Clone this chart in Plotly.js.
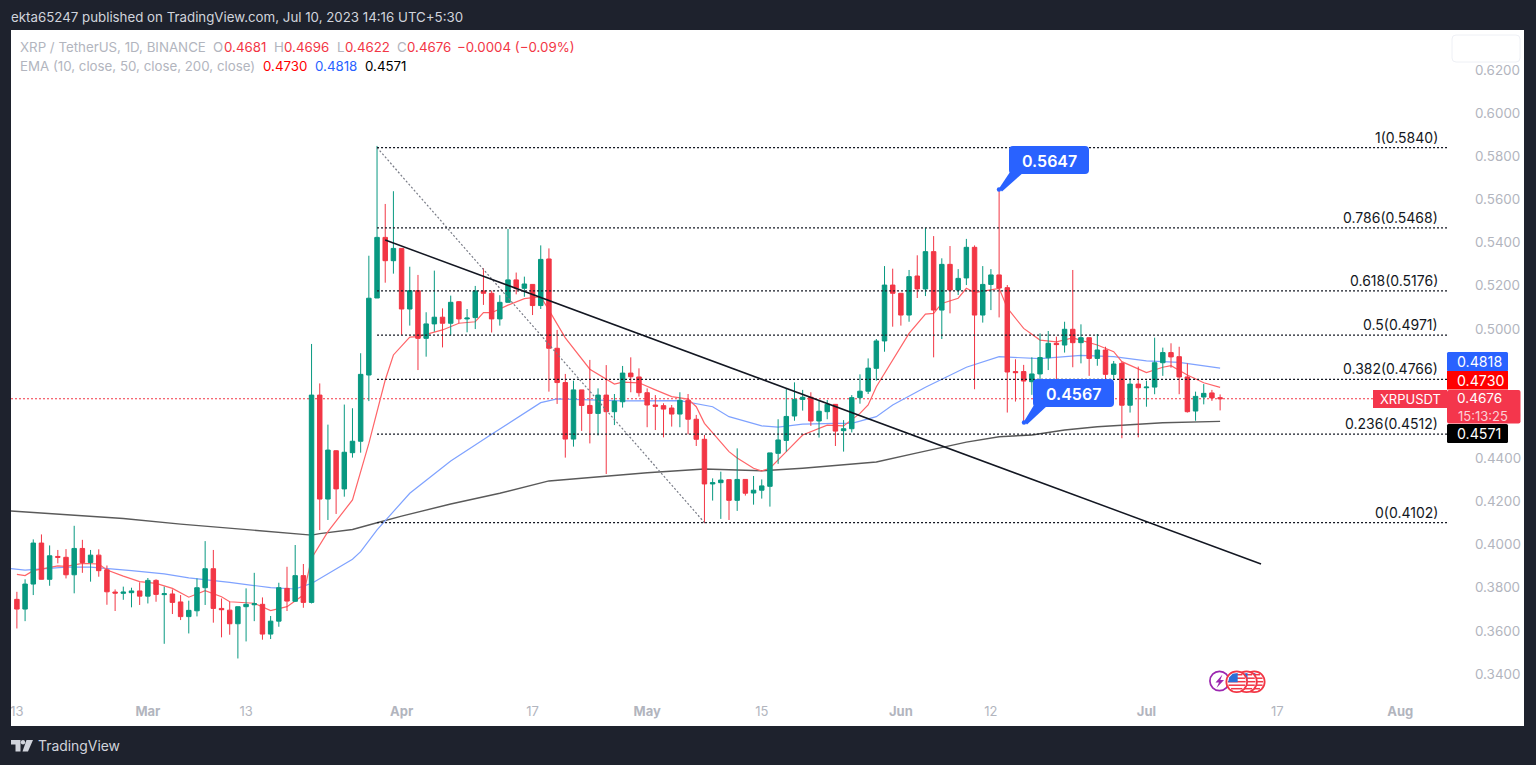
<!DOCTYPE html>
<html><head><meta charset="utf-8"><title>XRPUSDT</title>
<script src="https://cdn.plot.ly/plotly-3.0.1.min.js"></script>
<style>html,body{margin:0;padding:0;background:#1e222d;overflow:hidden}#c{width:1536px;height:765px}</style></head>
<body><div id="c"></div><script>
const dates=[
"2023-02-13","2023-02-14","2023-02-15","2023-02-16","2023-02-17","2023-02-18","2023-02-19","2023-02-20","2023-02-21","2023-02-22","2023-02-23","2023-02-24","2023-02-25","2023-02-26","2023-02-27","2023-02-28",
"2023-03-01","2023-03-02","2023-03-03","2023-03-04","2023-03-05","2023-03-06","2023-03-07","2023-03-08","2023-03-09","2023-03-10","2023-03-11","2023-03-12","2023-03-13","2023-03-14","2023-03-15","2023-03-16","2023-03-17","2023-03-18","2023-03-19","2023-03-20","2023-03-21","2023-03-22","2023-03-23","2023-03-24","2023-03-25","2023-03-26","2023-03-27","2023-03-28","2023-03-29","2023-03-30","2023-03-31",
"2023-04-01","2023-04-02","2023-04-03","2023-04-04","2023-04-05","2023-04-06","2023-04-07","2023-04-08","2023-04-09","2023-04-10","2023-04-11","2023-04-12","2023-04-13","2023-04-14","2023-04-15","2023-04-16","2023-04-17","2023-04-18","2023-04-19","2023-04-20","2023-04-21","2023-04-22","2023-04-23","2023-04-24","2023-04-25","2023-04-26","2023-04-27","2023-04-28","2023-04-29","2023-04-30",
"2023-05-01","2023-05-02","2023-05-03","2023-05-04","2023-05-05","2023-05-06","2023-05-07","2023-05-08","2023-05-09","2023-05-10","2023-05-11","2023-05-12","2023-05-13","2023-05-14","2023-05-15","2023-05-16","2023-05-17","2023-05-18","2023-05-19","2023-05-20","2023-05-21","2023-05-22","2023-05-23","2023-05-24","2023-05-25","2023-05-26","2023-05-27","2023-05-28","2023-05-29","2023-05-30","2023-05-31",
"2023-06-01","2023-06-02","2023-06-03","2023-06-04","2023-06-05","2023-06-06","2023-06-07","2023-06-08","2023-06-09","2023-06-10","2023-06-11","2023-06-12","2023-06-13","2023-06-14","2023-06-15","2023-06-16","2023-06-17","2023-06-18","2023-06-19","2023-06-20","2023-06-21","2023-06-22","2023-06-23","2023-06-24","2023-06-25","2023-06-26","2023-06-27","2023-06-28","2023-06-29","2023-06-30",
"2023-07-01","2023-07-02","2023-07-03","2023-07-04","2023-07-05","2023-07-06","2023-07-07","2023-07-08","2023-07-09","2023-07-10"];
const opens=[
.3746,.3701,.3817,.4007,.3839,.3945,.3941,.3860,.3982,.3917,.3951,.3883,.3780,.3774,.3777,.3785,
.3761,.3834,.3768,.3771,.3734,.3666,.3693,.3800,.3888,.3704,.3696,.3633,.3712,.3721,.3723,.3585,.3645,.3797,.3737,.3856,.3732,.4693,.4211,.4435,.4258,.4426,.4479,.4786,.5143,.5424,.5316,
.5373,.5092,.5177,.4956,.5023,.5054,.5026,.5126,.5046,.5052,.5176,.5165,.5046,.5123,.5227,.5188,.5206,.5108,.5324,.4910,.4751,.4489,.4717,.4645,.4608,.4693,.4616,.4662,.4795,.4777,
.4704,.4647,.4644,.4633,.4605,.4669,.4581,.4488,.4281,.4287,.4301,.4205,.4302,.4239,.4252,.4270,.4423,.4483,.4596,.4673,.4683,.4573,.4616,.4650,.4528,.4537,.4681,.4711,.4817,.4944,.5203,
.5165,.5064,.5245,.5185,.5358,.5087,.5299,.5180,.5236,.5378,.5064,.5206,.5250,.5191,.4802,.4802,.4755,.4791,.4866,.4933,.4925,.4998,.4936,.4959,.4863,.4902,.4789,.4840,.4646,.4744,
.4727,.4730,.4843,.4890,.4871,.4777,.4619,.4684,.4703,.4681];
const highs=[
.3781,.3839,.4024,.4047,.3996,.3975,.3979,.4087,.4022,.3975,.3978,.3903,.3792,.3805,.3800,.3825,
.3845,.3839,.3805,.3792,.3766,.3740,.3843,.4016,.3975,.3750,.3735,.3712,.3797,.3869,.3755,.3669,.3823,.3897,.3998,.3910,.4930,.4747,.4556,.4437,.4649,.4632,.4887,.5339,.5848,.5579,.5638,
.5373,.5288,.5250,.5077,.5270,.5095,.5154,.5129,.5092,.5199,.5281,.5177,.5156,.5463,.5261,.5242,.5206,.5387,.5373,.4995,.4791,.4760,.4717,.4856,.4724,.4832,.4698,.4828,.4868,.4817,
.4724,.4693,.4655,.4647,.4706,.4698,.4601,.4508,.4307,.4338,.4301,.4446,.4302,.4318,.4302,.4425,.4581,.4724,.4752,.4717,.4706,.4667,.4670,.4650,.4577,.4693,.4789,.4863,.4953,.5291,.5279,
.5165,.5273,.5341,.5469,.5430,.5327,.5384,.5277,.5417,.5387,.5291,.5277,.5647,.5203,.4859,.4833,.4868,.4979,.4990,.4964,.5033,.5273,.5021,.4959,.4976,.4917,.4851,.4848,.4771,.4825,
.4760,.4959,.4913,.4933,.4917,.4840,.4709,.4744,.4717,.4696];
const lows=[
.3611,.3645,.3766,.3839,.3809,.3913,.3843,.3774,.3869,.3828,.3851,.3721,.3692,.3744,.3709,.3720,
.3727,.3735,.3540,.3678,.3650,.3588,.3667,.3720,.3638,.3570,.3582,.3472,.3551,.3645,.3559,.3562,.3619,.3692,.3735,.3707,.3727,.4067,.4114,.4142,.4222,.4403,.4426,.4665,.5143,.5214,.5256,
.4972,.5015,.4809,.4871,.4987,.4914,.4969,.5026,.4984,.4999,.5111,.4983,.5015,.5123,.5160,.5149,.5064,.5092,.4709,.4652,.4403,.4454,.4527,.4469,.4506,.4327,.4554,.4635,.4706,.4686,
.4544,.4531,.4497,.4547,.4544,.4511,.4457,.4099,.4204,.4119,.4114,.4156,.4227,.4185,.4213,.4176,.4374,.4431,.4574,.4621,.4550,.4496,.4581,.4457,.4431,.4520,.4653,.4698,.4760,.4894,.5010,
.5015,.5033,.5143,.5152,.4868,.4953,.5072,.5157,.5203,.4720,.5029,.5087,.5053,.4612,.4663,.4567,.4694,.4743,.4809,.4717,.4890,.4822,.4840,.4782,.4829,.4704,.4763,.4493,.4612,.4497,
.4639,.4697,.4782,.4820,.4697,.4612,.4574,.4650,.4666,.4622];
const closes=[
.3701,.3817,.4007,.3839,.3948,.3941,.3860,.3982,.3917,.3951,.3879,.3781,.3775,.3780,.3785,.3761,
.3834,.3769,.3772,.3732,.3666,.3695,.3800,.3888,.3704,.3698,.3633,.3712,.3723,.3726,.3585,.3645,.3800,.3738,.3856,.3732,.4693,.4211,.4438,.4258,.4428,.4479,.4789,.5142,.5424,.5316,.5373,
.5092,.5177,.4956,.5023,.5054,.5026,.5123,.5046,.5050,.5176,.5165,.5046,.5123,.5227,.5188,.5208,.5108,.5322,.4910,.4751,.4489,.4717,.4645,.4608,.4693,.4616,.4665,.4795,.4778,.4704,
.4647,.4641,.4628,.4605,.4669,.4581,.4488,.4281,.4287,.4299,.4205,.4302,.4238,.4252,.4272,.4425,.4485,.4594,.4673,.4683,.4573,.4618,.4650,.4526,.4537,.4681,.4711,.4818,.4944,.5203,.5165,
.5064,.5242,.5185,.5358,.5087,.5299,.5180,.5234,.5378,.5064,.5206,.5250,.5189,.4800,.4797,.4758,.4791,.4867,.4933,.4927,.4998,.4936,.4959,.4863,.4902,.4789,.4837,.4646,.4744,.4727,
.4730,.4843,.4890,.4870,.4777,.4616,.4687,.4701,.4680,.4676];

const ema10Dates=["2023-02-13","2023-02-14","2023-02-15","2023-02-18","2023-02-19","2023-02-21","2023-02-23","2023-02-24","2023-02-26","2023-02-28","2023-03-02","2023-03-04","2023-03-06","2023-03-08","2023-03-10","2023-03-11","2023-03-14","2023-03-16","2023-03-18","2023-03-19","2023-03-20","2023-03-21","2023-03-22","2023-03-23","2023-03-26","2023-03-28","2023-03-30","2023-03-31","2023-04-02","2023-04-03","2023-04-06","2023-04-08","2023-04-10","2023-04-11","2023-04-12","2023-04-14","2023-04-16","2023-04-18","2023-04-19","2023-04-21","2023-04-24","2023-04-26","2023-04-27","2023-04-28","2023-04-30","2023-05-02","2023-05-04","2023-05-06","2023-05-07","2023-05-08","2023-05-11","2023-05-12","2023-05-14","2023-05-15","2023-05-16","2023-05-18","2023-05-20","2023-05-23","2023-05-25","2023-05-27","2023-05-28","2023-05-29","2023-05-31","2023-06-02","2023-06-04","2023-06-05","2023-06-06","2023-06-08","2023-06-09","2023-06-10","2023-06-13","2023-06-14","2023-06-16","2023-06-18","2023-06-20","2023-06-22","2023-06-25","2023-06-27","2023-06-28","2023-07-01","2023-07-03","2023-07-04","2023-07-06","2023-07-08","2023-07-10"];
const ema10=[.3862,.3856,.3879,.3901,.3899,.3913,.3910,.3882,.3854,.3828,.3820,.3797,.3756,.3786,.3758,.3735,.3728,.3694,.3712,.3740,.3766,.3937,.3998,.4060,.4207,.4469,.4763,.4879,.4962,.4964,.4995,.5026,.5033,.5075,.5075,.5110,.5140,.5149,.5087,.4958,.4813,.4766,.4744,.4753,.4750,.4717,.4686,.4674,.4639,.4562,.4431,.4401,.4354,.4341,.4354,.4431,.4508,.4554,.4550,.4608,.4647,.4732,.4856,.4979,.5068,.5072,.5118,.5142,.5188,.5168,.5188,.5097,.5002,.4948,.4940,.4958,.4925,.4894,.4848,.4797,.4822,.4829,.4786,.4750,.4729];
const ema50Dates=["2023-02-12","2023-02-14","2023-02-19","2023-02-22","2023-02-27","2023-03-03","2023-03-06","2023-03-11","2023-03-16","2023-03-19","2023-03-21","2023-03-26","2023-03-27","2023-03-29","2023-04-02","2023-04-07","2023-04-12","2023-04-18","2023-04-20","2023-04-28","2023-05-05","2023-05-09","2023-05-11","2023-05-15","2023-05-17","2023-05-20","2023-05-24","2023-05-26","2023-05-29","2023-05-31","2023-06-04","2023-06-09","2023-06-13","2023-06-17","2023-06-18","2023-06-23","2023-06-27","2023-07-01","2023-07-05","2023-07-10"];
const ema50=[.3890,.3882,.3895,.3895,.3879,.3864,.3846,.3825,.3800,.3794,.3820,.3932,.3967,.4068,.4238,.4387,.4511,.4658,.4675,.4666,.4667,.4639,.4593,.4550,.4544,.4558,.4562,.4562,.4593,.4647,.4729,.4822,.4871,.4863,.4862,.4877,.4871,.4852,.4845,.4818];
const ema200Dates=["2023-02-12","2023-02-19","2023-02-26","2023-03-05","2023-03-15","2023-03-20","2023-03-21","2023-03-22","2023-03-26","2023-03-29","2023-04-01","2023-04-07","2023-04-13","2023-04-19","2023-04-27","2023-05-01","2023-05-08","2023-05-15","2023-05-20","2023-05-29","2023-06-03","2023-06-09","2023-06-13","2023-06-17","2023-06-21","2023-06-25","2023-07-03","2023-07-10"];
const ema200=[.4156,.4140,.4121,.4095,.4061,.4044,.4044,.4051,.4070,.4101,.4132,.4188,.4238,.4295,.4321,.4333,.4350,.4342,.4354,.4383,.4425,.4475,.4500,.4508,.4531,.4546,.4565,.4571];

const fibRatios=["1","0.786","0.618","0.5","0.382","0.236","0"];
const fibLevels=[0.5840,0.5468,0.5176,0.4971,0.4766,0.4512,0.4102];
const fibStart="2023-03-29", fibEnd="2023-05-08", viewStart="2023-02-12 06:43", viewEnd="2023-08-06 17:17";
const trendDates=["2023-03-30","2023-07-15"], trendPrices=[0.5412,0.3910];
const lastPrice=0.4676;
const priceTicks=[0.34,0.36,0.38,0.40,0.42,0.44,0.46,0.50,0.52,0.54,0.56,0.58,0.60,0.62];
const timeTicks=["2023-02-13","2023-03-01","2023-03-13","2023-04-01","2023-04-17","2023-05-01","2023-05-15","2023-06-01","2023-06-12","2023-07-01","2023-07-17","2023-08-01"];
const timeLabels=["13","<b>Mar</b>","13","<b>Apr</b>","17","<b>May</b>","15","<b>Jun</b>","12","<b>Jul</b>","17","<b>Aug</b>"];

const FONT="Inter, 'Noto Sans', sans-serif";
const L=11,R=1447,T=30,B=695;
const PX=x=>(x-L)/(R-L), PY=y=>(B-y)/(B-T);
const RED='#f23645',GREEN='#089981',GREY='#b2b5be',BLUE='#2962ff',DARK='#1e222d',INK='#131722';

const shapes=[], ann=[];
function pShape(o){shapes.push(Object.assign({xref:'paper',yref:'paper',layer:'above'},o));}
function rect(x0,y0,x1,y1,fill,layer){pShape({type:'rect',x0:PX(x0),x1:PX(x1),y0:PY(y0),y1:PY(y1),fillcolor:fill,line:{width:0},layer:layer||'above'});}
function poly(pts,fill,extra){pShape(Object.assign({type:'path',path:'M'+pts.map(p=>PX(p[0])+','+PY(p[1])).join(' L')+' Z',fillcolor:fill,line:{width:0}},extra||{}));}
function rrect(x0,y0,x1,y1,r,fill,line){
  const q=(a,b)=>PX(a)+','+PY(b);
  pShape({type:'path',path:`M${q(x0+r,y0)} L${q(x1-r,y0)} Q${q(x1,y0)} ${q(x1,y0+r)} L${q(x1,y1-r)} Q${q(x1,y1)} ${q(x1-r,y1)} L${q(x0+r,y1)} Q${q(x0,y1)} ${q(x0,y1-r)} L${q(x0,y0+r)} Q${q(x0,y0)} ${q(x0+r,y0)} Z`,fillcolor:fill,line:line||{width:0}});
}
function circ(cx,cy,r,fill,line){pShape({type:'circle',x0:PX(cx-r),x1:PX(cx+r),y0:PY(cy-r),y1:PY(cy+r),fillcolor:fill,line:line||{width:0}});}
function txt(x,y,text,size,color,anchor,extra){ann.push(Object.assign({xref:'paper',yref:'paper',x:PX(x),y:PY(y),text,showarrow:false,xanchor:anchor||'left',yanchor:'middle',font:{family:FONT,size,color},borderpad:0,borderwidth:0},extra||{}));}

// white chart panel
rect(11,30,1524,726,'#ffffff','below');
// left frame mask, so the first tick label is cut by the frame like the source
rect(0,700,11,722,DARK);

// header and footer
txt(11,17,'ekta65247 published on TradingView.com, Jul 10, 2023 14:16 UTC+5:30',13.3,'#d1d4dc');
poly([[11,740],[20.5,740],[20.5,751.5],[15.5,751.5],[15.5,744.6],[11,744.6]],'#d1d4dc');
circ(23,742.2,2.2,'#d1d4dc');
poly([[26.5,740],[33,740],[28,751.5],[22.5,751.5]],'#d1d4dc');
txt(38,746,'TradingView',13.9,'#d1d4dc');

// legend
[[20,'XRP / TetherUS, 1D, BINANCE',GREY],[213,'O',GREY],[223.5,'0.4681',RED],[274,'H',GREY],[284,'0.4696',RED],[337,'L',GREY],[345,'0.4622',RED],[397,'C',GREY],[407,'0.4676',RED],[457,'−0.0004 (−0.09%)',RED]]
  .forEach(p=>txt(p[0],47,p[1],13.3,p[2]));
[[20,'EMA (10, close, 50, close, 200, close)',GREY],[263,'0.4730','#ff0000'],[315,'0.4818',BLUE],[365,'0.4571','#000000']]
  .forEach(p=>txt(p[0],66,p[1],13.3,p[2]));
rrect(1452,35,1520,62,4,'#ffffff',{color:'#eef0f5',width:1});

// fib labels
fibRatios.forEach((r,i)=>ann.push({xref:'paper',yref:'y',x:PX(1439),y:fibLevels[i],yshift:1,text:`${r}(${fibLevels[i].toFixed(4)})`,showarrow:false,xanchor:'right',yanchor:'bottom',font:{family:FONT,size:14,color:INK},borderpad:0}));

// price tags
rect(1373,390,1447,408,'#f4364c');
txt(1410,399.3,'XRPUSDT',13,'#ffffff','center');
rrect(1447,352,1508,371.5,1.5,BLUE);
txt(1456.5,361.5,'0.4818',14.2,'#ffffff');
rect(1447,371,1508,389.5,'#ff0000');
txt(1456.5,380.3,'0.4730',14.2,'#ffffff');
rrect(1447,390,1520.5,423.5,2,'#f4364c');
txt(1456.5,398,'0.4676',13.6,'#ffffff');
txt(1457.5,416,'15:13:25',13,'#fbd0d6');
rrect(1447,424,1508,443,1.5,'#000000');
txt(1456.5,433.5,'0.4571',14.2,'#ffffff');

// callouts
function callout(x0,y0,x1,y1,tipX,tipY,t){
  poly([[x0+1,y1-2],[x0+15,y1-2],[tipX+3,tipY+2],[tipX,tipY-1]],BLUE);
  rrect(x0,y0,x1,y1,4,BLUE);
  circ(tipX,tipY,2.2,BLUE);
  txt((x0+x1)/2,(y0+y1)/2+.5,t,16,'#ffffff','center',{font:{family:FONT,size:16,color:'#ffffff',weight:600}});
}
callout(1009,146,1089,174,999,189.5,'0.5647');
callout(1033,379,1114,407,1024,422.5,'0.4567');

// event badges
function flag(cx,cy){
  circ(cx,cy,10.4,'#ffffff',{color:RED,width:1.7});
  for(const d of [-7,-3.5,0,3.5,7]){
    const h=Math.sqrt(Math.max(0,81-d*d));
    pShape({type:'line',x0:PX(cx-(d<0?0:h)),x1:PX(cx+h),y0:PY(cy+d),y1:PY(cy+d),line:{color:RED,width:1.5}});
  }
  poly([[cx-8.6,cy+.5],[cx+1,cy+.5],[cx+1,cy-8.8],[cx-4,cy-8],[cx-7.4,cy-4.5]],'#2b6fd6');
}
flag(1254.3,681.7);flag(1246.5,681.7);
circ(1219.5,681,9.6,'#ffffff',{color:'#9c27b0',width:1.7});
poly([[1222.5,674.5],[1215.5,682.5],[1219,682.5],[1216.5,688],[1224,680],[1220.3,680]],'#9c27b0');
flag(1236.7,681.7);

const traces=[];
traces.push({type:'scatter',mode:'lines',x:[viewStart,viewEnd],y:[lastPrice,lastPrice],line:{color:RED,width:1,dash:'2px,2px'},hoverinfo:'skip',showlegend:false,xaxis:'x',yaxis:'y'});
traces.push({type:'scatter',mode:'lines',x:ema200Dates,y:ema200,line:{color:'#5a5a5a',width:1.4},name:'EMA 200',showlegend:false,xaxis:'x',yaxis:'y'});
traces.push({type:'scatter',mode:'lines',x:ema50Dates,y:ema50,line:{color:'#7fa2ff',width:1.2},name:'EMA 50',showlegend:false,xaxis:'x',yaxis:'y'});
traces.push({type:'scatter',mode:'lines',x:ema10Dates,y:ema10,line:{color:'#ff6468',width:1.2},name:'EMA 10',showlegend:false,xaxis:'x',yaxis:'y'});
traces.push({type:'candlestick',x:dates,open:opens,high:highs,low:lows,close:closes,
  increasing:{line:{color:GREEN,width:1},fillcolor:GREEN},decreasing:{line:{color:RED,width:1},fillcolor:RED},
  whiskerwidth:0,showlegend:false,xaxis:'x2',yaxis:'y2'});
traces.push({type:'scatter',mode:'lines',x:[fibStart,fibEnd],y:[fibLevels[0],fibLevels[6]],line:{color:'#787b86',width:1.2,dash:'2px,2px'},showlegend:false,xaxis:'x2',yaxis:'y2'});
fibLevels.forEach(v=>traces.push({type:'scatter',mode:'lines',x:[fibStart,viewEnd],y:[v,v],line:{color:INK,width:1.2,dash:'2px,2px'},showlegend:false,xaxis:'x2',yaxis:'y2'}));
traces.push({type:'scatter',mode:'lines',x:trendDates,y:trendPrices,line:{color:INK,width:1.5},showlegend:false,xaxis:'x2',yaxis:'y2'});

const yr=[0.62-(B-70)/2157.14,0.62+(70-T)/2157.14];
const layout={width:1536,height:765,autosize:false,margin:{l:L,r:1536-R,t:T,b:765-B,pad:0},
  paper_bgcolor:DARK,plot_bgcolor:'rgba(0,0,0,0)',showlegend:false,hovermode:false,boxgap:0.22,
  font:{family:FONT,color:GREY},
  xaxis:{type:'date',range:[viewStart,viewEnd],showgrid:false,zeroline:false,showline:false,ticks:'',tickmode:'array',tickvals:timeTicks,ticktext:timeLabels,tickangle:0,
    tickfont:{family:FONT,size:13,color:GREY},ticklabelstandoff:7,anchor:'y',fixedrange:true},
  yaxis:{range:yr,side:'right',showgrid:false,zeroline:false,showline:false,ticks:'',tickmode:'array',tickvals:priceTicks,ticktext:priceTicks.map(v=>v.toFixed(4)),
    tickfont:{family:FONT,size:13.4,color:GREY},ticklabelstandoff:27,anchor:'x',fixedrange:true},
  xaxis2:{type:'date',range:[viewStart,viewEnd],overlaying:'x',anchor:'y2',visible:false,rangeslider:{visible:false},fixedrange:true},
  yaxis2:{range:yr,overlaying:'y',anchor:'x2',visible:false,side:'right',fixedrange:true},
  shapes,annotations:ann};
Plotly.newPlot('c',traces,layout,{staticPlot:true,displayModeBar:false,responsive:false});
</script></body></html>
